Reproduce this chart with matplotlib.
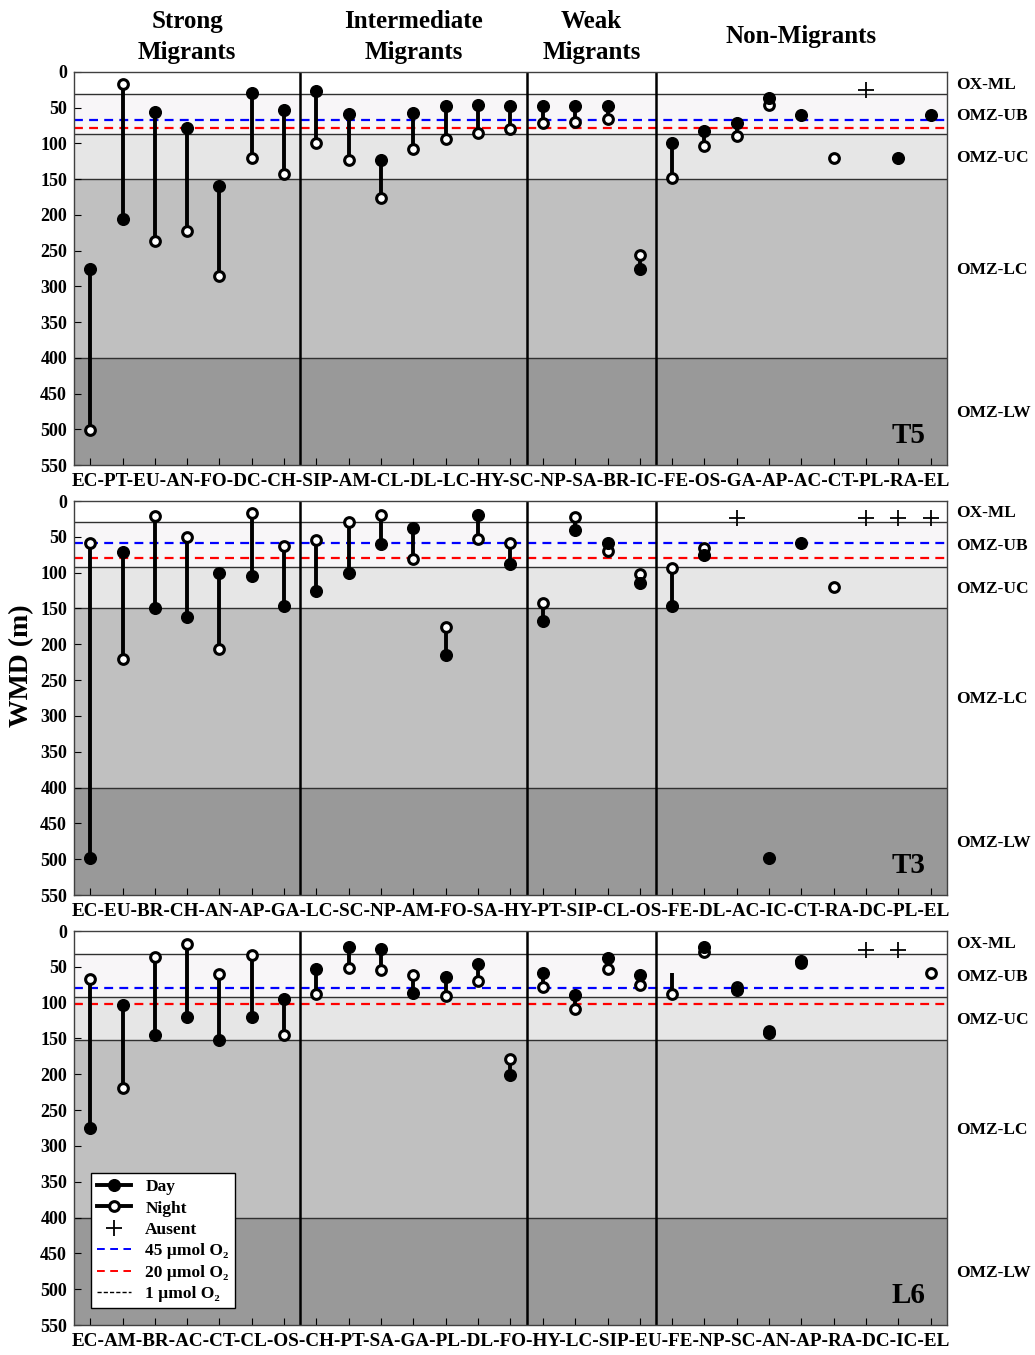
import numpy as np
import matplotlib
matplotlib.use("Agg")
import matplotlib.pyplot as plt
from matplotlib.lines import Line2D
from matplotlib.legend_handler import HandlerLine2D
from matplotlib.transforms import blended_transform_factory

plt.rcParams['font.family'] = ['Liberation Serif', 'DejaVu Serif']
plt.rcParams['font.weight'] = 'bold'

nan = np.nan

group_names = ['Strong\nMigrants', 'Intermediate\nMigrants', 'Weak\nMigrants', 'Non-Migrants']
group_sizes = [7, 7, 4, 9]
zone_names = ['OX-ML', 'OMZ-UB', 'OMZ-UC', 'OMZ-LC', 'OMZ-LW']
zone_colors = ['#ffffff', '#f8f6f8', '#e6e6e6', '#c0c0c0', '#999999']

# T5
t5_species = ['EC', 'PT', 'EU', 'AN', 'FO', 'DC', 'CH', 'SIP', 'AM', 'CL', 'DL', 'LC', 'HY', 'SC',
              'NP', 'SA', 'BR', 'IC', 'FE', 'OS', 'GA', 'AP', 'AC', 'CT', 'PL', 'RA', 'EL']
t5_day = [275, 206, 56, 78, 159, 30, 53, 26, 59, 123, 58, 47, 46, 47,
          47, 47, 47, 275, 100, 83, 72, 36, 60, nan, nan, 120, 60]
t5_night = [501, 17, 237, 223, 285, 120, 143, 100, 123, 176, 108, 94, 85, 80,
            71, 70, 66, 256, 149, 104, 90, 46, nan, 120, nan, nan, nan]
t5_absent = ['PL']
t5_absent_depth = 25
t5_zones = [31, 87, 150, 400]
t5_o2 = [67, 78]

# T3
t3_species = ['EC', 'EU', 'BR', 'CH', 'AN', 'AP', 'GA', 'LC', 'SC', 'NP', 'AM', 'FO', 'SA', 'HY',
              'PT', 'SIP', 'CL', 'OS', 'FE', 'DL', 'AC', 'IC', 'CT', 'RA', 'DC', 'PL', 'EL']
t3_day = [499, 71, 150, 162, 100, 105, 147, 125, 100, 60, 38, 215, 20, 88,
          168, 40, 58, 114, 146, 76, nan, 499, 59, nan, nan, nan, nan]
t3_night = [59, 221, 21, 50, 207, 17, 63, 55, 29, 19, 81, 176, 53, 59,
            143, 22, 70, 102, 93, 65, nan, nan, nan, 120, nan, nan, nan]
t3_absent = ['AC', 'DC', 'PL', 'EL']
t3_absent_depth = 24
t3_zones = [30, 92, 149, 400]
t3_o2 = [58, 79]

# L6
l6_species = ['EC', 'AM', 'BR', 'AC', 'CT', 'CL', 'OS', 'CH', 'PT', 'SA', 'GA', 'PL', 'DL', 'FO',
              'HY', 'LC', 'SIP', 'EU', 'FE', 'NP', 'SC', 'AN', 'AP', 'RA', 'DC', 'IC', 'EL']
l6_day = [275, 103, 145, 120, 152, 120, 95, 53, 22, 25, 87, 64, 46, 201,
          58, 89, 38, 61, 59, 23, 83, 143, 42, nan, nan, nan, nan]
l6_night = [67, 219, 36, 18, 60, 33, 145, 88, 51, 54, 61, 91, 70, 179,
            78, 109, 53, 75, 88, 30, 78, 139, 44, nan, nan, nan, 59]
l6_absent = ['DC', 'IC']
l6_absent_depth = 26
l6_hidden_day = ['FE']
l6_zones = [32, 92, 152, 400]
l6_o2 = [79, 102]

panels = [
    ('T5', t5_species, t5_day, t5_night, t5_absent, t5_absent_depth, [], t5_zones, t5_o2),
    ('T3', t3_species, t3_day, t3_night, t3_absent, t3_absent_depth, [], t3_zones, t3_o2),
    ('L6', l6_species, l6_day, l6_night, l6_absent, l6_absent_depth, l6_hidden_day, l6_zones, l6_o2),
]


class RightMarker(HandlerLine2D):
    def get_xdata(self, legend, xdescent, ydescent, width, height, fontsize):
        xdata = np.array([-xdescent, -xdescent + width])
        return xdata, np.array([-xdescent + width * 0.9])


fig = plt.figure(figsize=(10.35, 13.55), dpi=100)
W, H = 1035, 1355
left, right = 74, 947
tops = [72, 501, 931]
bottoms = [465, 895, 1325]
axes = []
for top, bot in zip(tops, bottoms):
    axes.append(fig.add_axes([left / W, 1 - bot / H, (right - left) / W, (bot - top) / H]))

seps = np.cumsum(group_sizes)[:-1] + 0.5
starts = np.concatenate([[0], np.cumsum(group_sizes)[:-1]])
centers = starts + np.array(group_sizes) / 2 + 0.5

for ax, (name, sp, day, night, absent, absent_d, hidden, zones, o2) in zip(axes, panels):
    x = np.arange(1, len(sp) + 1)
    day = np.array(day, dtype=float)
    night = np.array(night, dtype=float)
    edges = [0] + zones + [550]
    for i in range(5):
        ax.axhspan(edges[i], edges[i + 1], color=zone_colors[i], zorder=0, lw=0)
    for z in zones:
        ax.axhline(z, color='#303030', lw=1.0, zorder=1)
    ax.axhline(o2[0], color='#0000ff', lw=1.6, dashes=(4, 2.8), zorder=2)
    ax.axhline(o2[1], color='#ff0000', lw=1.6, dashes=(4, 2.8), zorder=2)
    for s in seps:
        ax.axvline(s, color='black', lw=1.8, zorder=2)

    both = ~np.isnan(day) & ~np.isnan(night)
    ax.vlines(x[both], day[both], night[both], color='black', lw=2.8, zorder=3)
    ax.plot(x, night, 'o', ls='none', ms=7, mfc='white', mec='black', mew=2.2, zorder=4)
    show_day = np.array([s not in hidden for s in sp])
    ax.plot(x[show_day], day[show_day], 'o', ls='none', ms=8.4, mfc='black', mec='black',
            mew=1, zorder=5)
    ax_idx = [sp.index(a) + 1 for a in absent]
    ax.plot(ax_idx, [absent_d] * len(ax_idx), '+', ls='none', ms=12, mew=1.3,
            color='black', zorder=5)

    ax.set_xlim(0.5, len(sp) + 0.5)
    ax.set_ylim(550, 0)
    ax.set_yticks(np.arange(0, 551, 50))
    ax.set_xticks(x)
    ax.set_xticklabels([])
    ax.tick_params(axis='x', direction='in', length=5, width=0.8, bottom=True, top=False)
    ax.tick_params(axis='y', direction='in', length=5, width=0.8, labelsize=13, pad=5)
    for lab in ax.get_yticklabels():
        lab.set_fontweight('bold')
    for spn in ax.spines.values():
        spn.set_color('#404040')
        spn.set_linewidth(1.0)

    trans = blended_transform_factory(ax.transAxes, ax.transData)
    for i, zn in enumerate(zone_names):
        ax.text(1.011, (edges[i] + edges[i + 1]) / 2 + 2, zn, transform=trans,
                ha='left', va='center', fontsize=12.5, fontweight='bold')

    ax.text(0.975, 0.056, name, transform=ax.transAxes, ha='right', va='baseline',
            fontsize=21, fontweight='bold')

    lbl = ax.text(0.5, -0.02, '-'.join(sp), transform=ax.transAxes, ha='center', va='top',
                  fontsize=13, fontweight='bold')
    fig.canvas.draw()
    w = lbl.get_window_extent().width
    lbl.set_fontsize(13 * (right - left - 2) / w)

# group headers
htrans = blended_transform_factory(axes[0].transData, fig.transFigure)
for c, g in zip(centers, group_names):
    fig.text(c, 1 - 37 / H, g, transform=htrans, ha='center', va='center',
             fontsize=18, fontweight='bold', linespacing=1.45)

fig.text(22 / W, 1 - 666 / H, 'WMD (m)', rotation=90, ha='center', va='center',
         fontsize=20, fontweight='bold')

handles = [
    Line2D([], [], color='black', lw=2.8, marker='o', ms=8.4, mfc='black', mec='black'),
    Line2D([], [], color='black', lw=2.8, marker='o', ms=7, mfc='white', mec='black', mew=2.2),
    Line2D([], [], color='black', ls='none', marker='+', ms=12, mew=1.3),
    Line2D([], [], color='#0000ff', lw=1.4, dashes=(4, 2.8)),
    Line2D([], [], color='#ff0000', lw=1.4, dashes=(4, 2.8)),
    Line2D([], [], color='black', lw=1.0, dashes=(3, 1.5)),
]
labels = ['Day', 'Night', 'Ausent', '45 µmol O₂', '20 µmol O₂', '1 µmol O₂']
leg = axes[2].legend(handles, labels, loc='lower left', bbox_to_anchor=(0.019, 0.043),
                     borderaxespad=0, fontsize=12.5, handlelength=2.0, labelspacing=0.3,
                     handletextpad=0.8, borderpad=0.35, fancybox=False, framealpha=1,
                     edgecolor='black', handler_map={h: RightMarker() for h in handles[:3]})
leg.get_frame().set_linewidth(1.0)
for t in leg.get_texts():
    t.set_fontweight('bold')

fig.savefig('out.png', dpi=100)
